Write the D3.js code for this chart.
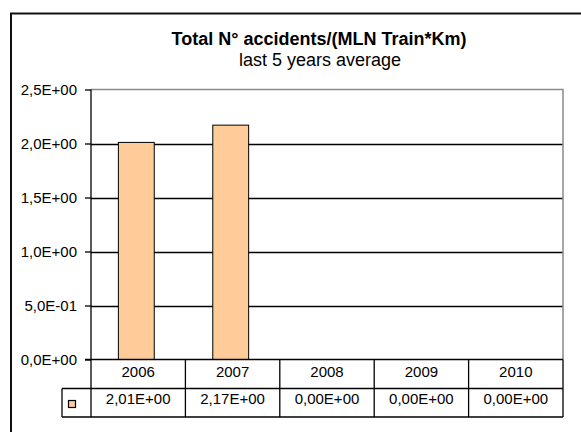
<!DOCTYPE html>
<html>
<head>
<meta charset="utf-8">
<script src="https://cdn.jsdelivr.net/npm/d3@7"></script>
<style>
  body { margin: 0; background: #fff; }
  text { font-family: Arial, "Liberation Sans", sans-serif; fill: #000; }
</style>
</head>
<body>
<div id="canvas"></div>
<script>
const years = ['2006', '2007', '2008', '2009', '2010']
const values = [2.01, 2.17, 0, 0, 0]
const valueLabels = ['2,01E+00', '2,17E+00', '0,00E+00', '0,00E+00', '0,00E+00']
const yTicks = [0, 0.5, 1, 1.5, 2, 2.5]
const yTickLabels = ['0,0E+00', '5,0E-01', '1,0E+00', '1,5E+00', '2,0E+00', '2,5E+00']

const width = 581
const height = 432
const plot = {left: 91, right: 563, top: 89.5, bottom: 359.5}
const rowH = [29, 28.5]

const svg = d3.select('#canvas')
  .append('svg')
  .attr('width', width)
  .attr('height', height)

// outer chart frame (runs off the right and bottom edge)
svg.append('rect')
  .attr('x', 11).attr('y', 13.5)
  .attr('width', 700).attr('height', 600)
  .attr('fill', 'none')
  .attr('stroke', '#111')
  .attr('stroke-width', 2)

svg.append('text')
  .text('Total N° accidents/(MLN Train*Km)')
  .attr('x', 319).attr('y', 44.5)
  .attr('text-anchor', 'middle')
  .attr('font-size', 18)
  .attr('font-weight', 'bold')

svg.append('text')
  .text('last 5 years average')
  .attr('x', 320).attr('y', 65.5)
  .attr('text-anchor', 'middle')
  .attr('font-size', 18)

const x = d3.scaleBand()
  .domain(years)
  .range([plot.left, plot.right])
  .padding(0)

const y = d3.scaleLinear()
  .domain([0, 2.5])
  .range([plot.bottom, plot.top])

// gridlines
svg.append('g')
  .selectAll('line')
  .data(yTicks.filter(d => d > 0 && d < 2.5))
  .enter().append('line')
  .attr('x1', plot.left).attr('x2', plot.right)
  .attr('y1', d => Math.round(y(d)) + 0.5)
  .attr('y2', d => Math.round(y(d)) + 0.5)
  .attr('stroke', '#000')
  .attr('stroke-width', 1.3)

// plot border top + right (grey)
svg.append('path')
  .attr('d', `M${plot.left},${plot.top}H${plot.right}V${plot.bottom}`)
  .attr('fill', 'none')
  .attr('stroke', '#8a8a8a')
  .attr('stroke-width', 1.5)

// bars
svg.append('g')
  .selectAll('rect')
  .data(values)
  .enter().append('rect')
  .attr('x', (d, i) => x(years[i]) + x.bandwidth() * 0.29)
  .attr('width', x.bandwidth() * 0.38)
  .attr('y', d => y(d))
  .attr('height', d => y(0) - y(d))
  .attr('fill', '#FFCC99')
  .attr('stroke', '#000')
  .attr('stroke-width', 1)

// y axis
const yAxisCall = d3.axisLeft(y)
  .tickValues(yTicks)
  .tickSize(6)
  .tickFormat((d, i) => yTickLabels[i])
const yAxis = svg.append('g')
  .attr('transform', `translate(${plot.left},0)`)
  .call(yAxisCall)
yAxis.select('.domain').remove()
yAxis.selectAll('line').attr('stroke', '#000').attr('stroke-width', 1.3)
yAxis.selectAll('text')
  .attr('font-size', 15)
  .attr('font-family', 'Arial, "Liberation Sans", sans-serif')
  .attr('x', -14)
  .attr('dy', '0.32em')

// y axis line extends down through the data table
const tableTop = plot.bottom
const tableMid = tableTop + rowH[0]
const tableBot = tableMid + rowH[1]
svg.append('line')
  .attr('x1', plot.left).attr('x2', plot.left)
  .attr('y1', plot.top).attr('y2', tableBot)
  .attr('stroke', '#000').attr('stroke-width', 1.3)

// data table
const tbl = svg.append('g')
const hline = (x1, x2, yy) => tbl.append('line')
  .attr('x1', x1).attr('x2', x2).attr('y1', yy).attr('y2', yy)
  .attr('stroke', '#000').attr('stroke-width', 1.3)
hline(plot.left - 6, plot.right, tableTop)
hline(62, plot.right, tableMid)
hline(62, plot.right, tableBot)

tbl.selectAll('.col')
  .data(years)
  .enter().append('line')
  .attr('x1', d => x(d) + x.bandwidth()).attr('x2', d => x(d) + x.bandwidth())
  .attr('y1', tableTop).attr('y2', tableBot)
  .attr('stroke', '#000').attr('stroke-width', 1.3)

tbl.append('line')
  .attr('x1', 62).attr('x2', 62)
  .attr('y1', tableMid).attr('y2', tableBot)
  .attr('stroke', '#000').attr('stroke-width', 1.3)

tbl.selectAll('.yr')
  .data(years)
  .enter().append('text')
  .text(d => d)
  .attr('x', d => x(d) + x.bandwidth() / 2)
  .attr('y', tableTop + 17.5)
  .attr('text-anchor', 'middle')
  .attr('font-size', 15)

tbl.selectAll('.val')
  .data(valueLabels)
  .enter().append('text')
  .text(d => d)
  .attr('x', (d, i) => x(years[i]) + x.bandwidth() / 2)
  .attr('y', tableMid + 15.5)
  .attr('text-anchor', 'middle')
  .attr('font-size', 15)

// legend key
tbl.append('rect')
  .attr('x', 68.5).attr('y', 400.5)
  .attr('width', 7).attr('height', 7)
  .attr('fill', '#FFCC99')
  .attr('stroke', '#000')
  .attr('stroke-width', 1.2)
</script>
</body>
</html>
